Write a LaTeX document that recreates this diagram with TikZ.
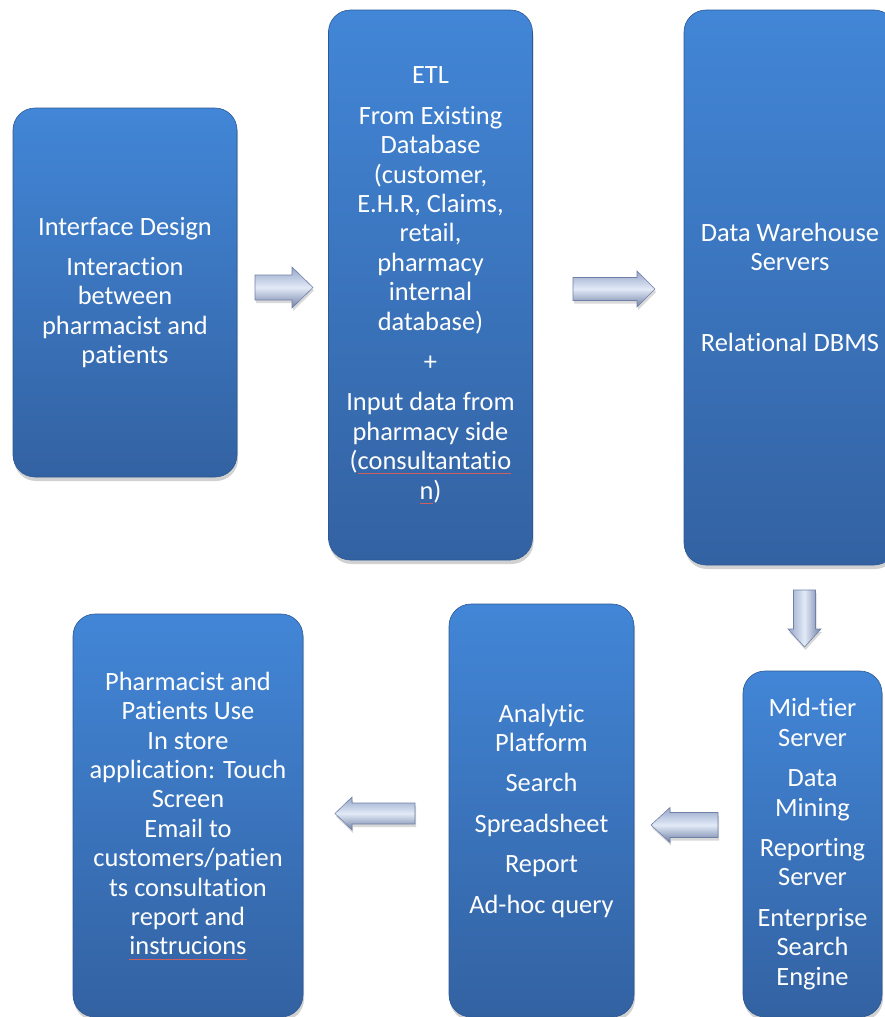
\documentclass[tikz,border=0pt]{standalone}
\usepackage{fontspec}
\setmainfont{Carlito}[Ligatures=NoCommon]
\usetikzlibrary{shadows}
\definecolor{boxtop}{RGB}{66,134,215}
\definecolor{boxbot}{RGB}{51,98,162}
\definecolor{boxedge}{RGB}{44,88,148}
\definecolor{arrlight}{RGB}{226,234,247}
\definecolor{arrmid}{RGB}{150,166,200}
\definecolor{arrdark}{RGB}{112,128,166}
\definecolor{spellred}{RGB}{205,95,95}
\newsavebox\spellbox
\newcommand\spellmark[1]{\sbox\spellbox{#1}\rlap{\raisebox{-4pt}{\color{spellred}\rule{\wd\spellbox}{0.4pt}}}#1}
\tikzset{
  flowbox/.style={rounded corners=22pt, top color=boxtop, bottom color=boxbot,
    draw=boxedge, line width=0.6pt, text=white, align=center,
    font=\fontsize{26.4}{29.4}\selectfont, inner sep=0pt,
    drop shadow={shadow xshift=1pt, shadow yshift=-4pt, opacity=0.3, fill=black!60}},
  blockarrow/.style={draw=arrdark, line width=0.6pt, line join=miter,
    drop shadow={shadow xshift=1pt, shadow yshift=-3pt, opacity=0.25, fill=black!60}},
  harrowshade/.style={top color=arrmid, bottom color=arrdark, middle color=arrlight},
  varrowshade/.style={left color=arrmid, right color=arrdark, middle color=arrlight},
}
% horizontal block arrow: name, cx, cy, signed length, head width, shaft width, signed head length
\newcommand\harrow[7]{%
  \coordinate (#1) at (#2,#3);
  \path[blockarrow, harrowshade]
    ({#2-(#4)/2},{#3-(#6)/2}) -- ({#2+(#4)/2-(#7)},{#3-(#6)/2}) --
    ({#2+(#4)/2-(#7)},{#3-(#5)/2}) -- ({#2+(#4)/2},{#3}) --
    ({#2+(#4)/2-(#7)},{#3+(#5)/2}) -- ({#2+(#4)/2-(#7)},{#3+(#6)/2}) --
    ({#2-(#4)/2},{#3+(#6)/2}) -- cycle;}
% downward block arrow: name, cx, cy, length, head width, shaft width, head length
\newcommand\varrow[7]{%
  \coordinate (#1) at (#2,#3);
  \path[blockarrow, varrowshade]
    ({#2-(#6)/2},{#3-(#4)/2}) -- ({#2-(#6)/2},{#3+(#4)/2-(#7)}) --
    ({#2-(#5)/2},{#3+(#4)/2-(#7)}) -- ({#2},{#3+(#4)/2}) --
    ({#2+(#5)/2},{#3+(#4)/2-(#7)}) -- ({#2+(#6)/2},{#3+(#4)/2-(#7)}) --
    ({#2+(#6)/2},{#3-(#4)/2}) -- cycle;}
\begin{document}
\begin{tikzpicture}[x=1pt,y=-1pt]
\useasboundingbox (0,0) rectangle (885,1017);
\clip (0,0) rectangle (885,1017);

\node[flowbox, minimum width=224pt, minimum height=369pt] (b1) at (125,292.5)
  {Interface Design\\[11pt] Interaction\\ between\\ pharmacist and\\ patients};

\node[flowbox, minimum width=204pt, minimum height=550pt] (b2) at (430.5,285)
  {ETL\\[11pt] From Existing\\ Database\\ (customer,\\ E.H.R, Claims,\\ retail,\\ pharmacy\\ internal\\ database)\\[11pt] +\\[11pt] Input data from\\ pharmacy side\\ (\spellmark{consultantatio}\\ \spellmark{n})};

\node[flowbox, minimum width=212pt, minimum height=555pt] (b3) at (790,287.5)
  {Data Warehouse\\ Servers\\[11pt] \mbox{}\\[11pt] Relational DBMS};

\node[flowbox, minimum width=139pt, minimum height=346pt] (b4) at (812.5,844)
  {Mid-tier\\ Server\\[11pt] Data\\ Mining\\[11pt] Reporting\\ Server\\[11pt] Enterprise\\ Search\\ Engine};

\node[flowbox, minimum width=185pt, minimum height=413pt] (b5) at (541.5,810.5)
  {Analytic\\ Platform\\[11pt] Search\\[11pt] Spreadsheet\\[11pt] Report\\[11pt] Ad-hoc query};

\node[flowbox, minimum width=230pt, minimum height=403pt] (b6) at (188,815.5)
  {Pharmacist and\\ Patients Use\\ In store\\ application: Touch\\ Screen\\ Email to\\ customers/patien\\ ts consultation\\ report and\\ \spellmark{instrucions}};

\harrow{a1}{284}{287.5}{58}{41}{25}{21}
\harrow{a2}{614}{289}{82}{36}{23}{18}
\varrow{a3}{804.5}{618.5}{57}{33}{22}{18}
\harrow{a4}{684.5}{825}{-67}{35}{25}{-19}
\harrow{a5}{375}{813.5}{-80}{33}{21}{-17}
\end{tikzpicture}
\end{document}
